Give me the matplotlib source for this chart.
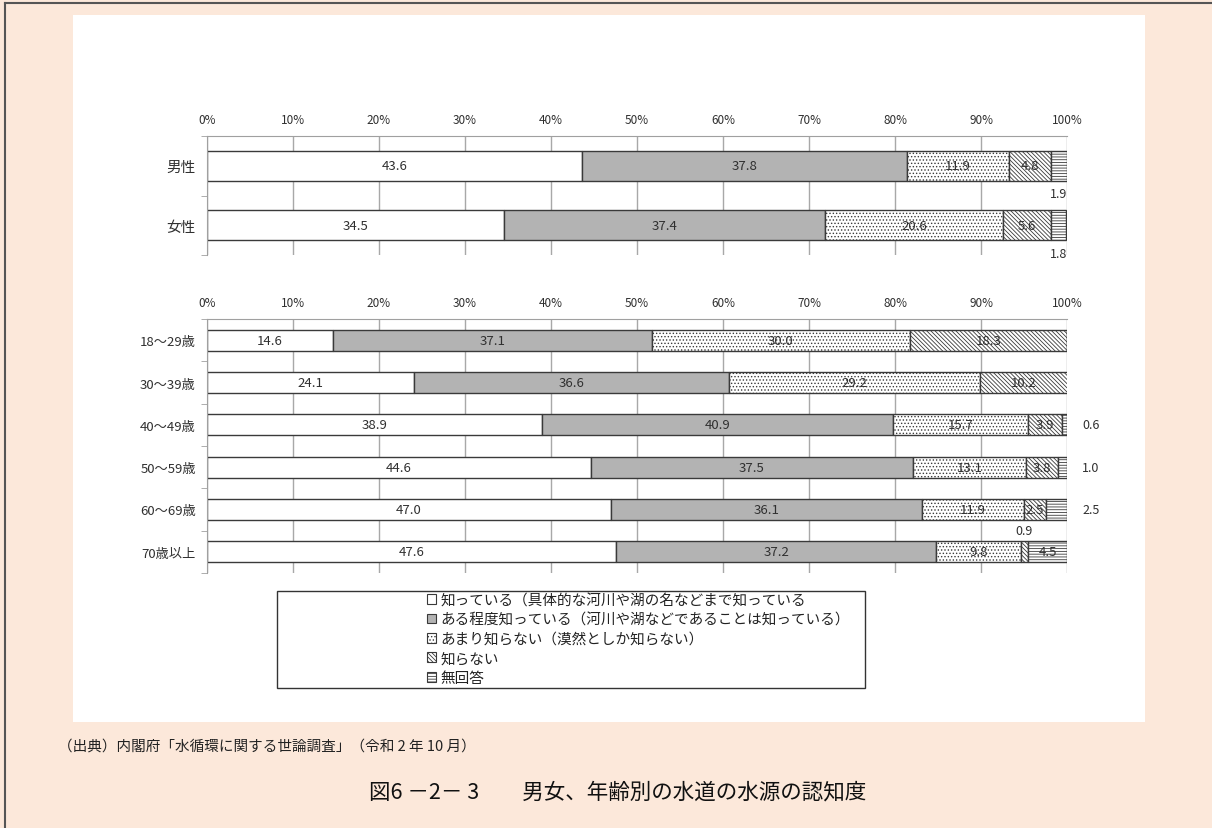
import numpy as np
import matplotlib
matplotlib.use('Agg')
import matplotlib.pyplot as plt
from matplotlib.patches import Patch, Rectangle
from matplotlib.lines import Line2D

plt.rcParams['font.family'] = ['Noto Sans CJK JP', 'DejaVu Sans']
plt.rcParams['hatch.linewidth'] = 0.6

# 回答区分
answers = ['知っている（具体的な河川や湖の名などまで知っている',
           'ある程度知っている（河川や湖などであることは知っている）',
           'あまり知らない（漠然としか知らない）',
           '知らない',
           '無回答']

# 男女別 (%)
sex_labels = ['男性', '女性']
sex_know = [43.6, 34.5]
sex_some = [37.8, 37.4]
sex_little = [11.9, 20.6]
sex_not = [4.8, 5.6]
sex_na = [1.9, 1.8]

# 年齢別 (%)
age_labels = ['18〜29歳', '30〜39歳', '40〜49歳', '50〜59歳', '60〜69歳', '70歳以上']
age_know = [14.6, 24.1, 38.9, 44.6, 47.0, 47.6]
age_some = [37.1, 36.6, 40.9, 37.5, 36.1, 37.2]
age_little = [30.0, 29.2, 15.7, 13.1, 11.9, 9.8]
age_not = [18.3, 10.2, 3.9, 3.8, 2.5, 0.9]
age_na = [0.0, 0.0, 0.6, 1.0, 2.5, 4.5]

fills = ['white', '#b3b3b3', 'white', 'white', 'white']
hatches = [None, None, '.....', '\\' * 8, '-' * 6]
edge = '#3a3a3a'
txt = '#303030'

W, H = 1212, 829
fig = plt.figure(figsize=(W / 100, H / 100), dpi=100, facecolor='#fce8da')

# 白い台紙と外枠
fig.add_artist(Rectangle((73 / W, 1 - 723 / H), (1145 - 73) / W, (723 - 16) / H,
                         transform=fig.transFigure, facecolor='white',
                         edgecolor='none', zorder=-2))
fig.add_artist(Line2D([5 / W, 1], [1 - 4 / H, 1 - 4 / H], transform=fig.transFigure,
                      color='#555555', lw=1.5))
fig.add_artist(Line2D([5 / W, 5 / W], [0, 1 - 4 / H], transform=fig.transFigure,
                      color='#555555', lw=1.5))


def draw_panel(ax, cats, series, outside, cat_size):
    n = len(cats)
    y = np.arange(n)
    left = np.zeros(n)
    for k, vals in enumerate(series):
        vals = np.array(vals, dtype=float)
        ax.barh(y, vals, left=left, height=0.5, color=fills[k], hatch=hatches[k],
                edgecolor=edge, linewidth=1.0, zorder=2)
        for i, v in enumerate(vals):
            if v <= 0:
                continue
            cx = left[i] + v / 2
            spot = outside.get((i, k))
            s = f'{v:.1f}'
            if spot == 'below':
                ax.text(cx, i + 0.47, s, ha='center', va='center', fontsize=9, color=txt)
            elif spot == 'above':
                ax.text(cx, i - 0.5, s, ha='center', va='center', fontsize=9, color=txt)
            elif spot == 'right':
                ax.text(1.028, i, s, ha='center', va='center', fontsize=9, color=txt,
                        transform=ax.get_yaxis_transform(), clip_on=False)
            else:
                ax.text(cx, i, s, ha='center', va='center', fontsize=9.5, color=txt, zorder=4)
        left += vals

    ax.set_xlim(0, 100)
    ax.set_ylim(n - 0.5, -0.5)
    ax.set_facecolor('white')
    ax.xaxis.tick_top()
    ticks = np.arange(0, 101, 10)
    ax.set_xticks(ticks, [f'{t}%' for t in ticks])
    ax.tick_params(axis='x', length=0, pad=7, labelsize=8.5, labelcolor=txt)
    ax.grid(axis='x', color='#a8a8a8', lw=1)
    ax.set_axisbelow(True)
    ax.set_yticks(y, cats)
    ax.set_yticks(np.arange(-0.5, n, 1), minor=True)
    ax.tick_params(axis='y', which='major', length=0, pad=8, labelsize=cat_size,
                   labelcolor=txt)
    ax.tick_params(axis='y', which='minor', length=4, color='#a0a0a0')
    for side in ('right', 'bottom'):
        ax.spines[side].set_visible(False)
    for side in ('left', 'top'):
        ax.spines[side].set_color('#a0a0a0')


ax1 = fig.add_axes([207 / W, 1 - 256 / H, 860 / W, 119 / H])
draw_panel(ax1, sex_labels, [sex_know, sex_some, sex_little, sex_not, sex_na],
           {(0, 4): 'below', (1, 4): 'below'}, 10.5)

ax2 = fig.add_axes([207 / W, 1 - 574 / H, 860 / W, 254 / H])
draw_panel(ax2, age_labels, [age_know, age_some, age_little, age_not, age_na],
           {(2, 4): 'right', (3, 4): 'right', (4, 4): 'right', (5, 3): 'above'}, 9.5)

# 凡例
fig.add_artist(Rectangle((277 / W, 1 - 689 / H), (865 - 277) / W, (689 - 592) / H,
                         transform=fig.transFigure, facecolor='none',
                         edgecolor='#333333', lw=1))
handles = [Patch(facecolor=fills[k], hatch=hatches[k], edgecolor=edge, lw=0.8)
           for k in range(len(answers))]
fig.legend(handles, answers, loc='upper left', bbox_to_anchor=(427 / W, 1 - 594 / H),
           frameon=False, fontsize=10.5, handlelength=0.65, handleheight=0.65,
           handletextpad=0.25, labelspacing=0.37, borderpad=0, borderaxespad=0,
           labelcolor='#222222')

fig.text(58 / W, 1 - 747 / H, '（出典）内閣府「水循環に関する世論調査」（令和 2 年 10 月）',
         fontsize=10.5, va='center', color='#222222')
fig.text(618 / W, 1 - 792 / H, '図6 －2－ 3　　男女、年齢別の水道の水源の認知度',
         fontsize=15.5, ha='center', va='center', color='#111111')

fig.savefig('out.png', dpi=100, facecolor=fig.get_facecolor())
